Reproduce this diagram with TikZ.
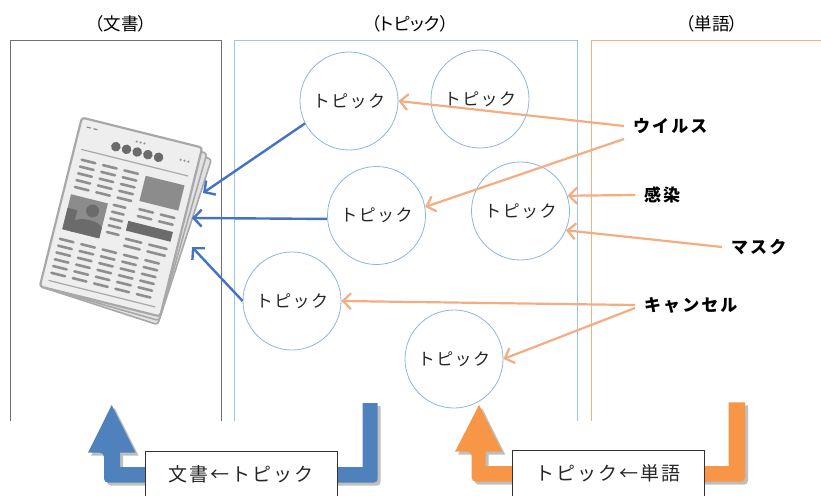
\documentclass[tikz,border=0pt]{standalone}
\usepackage{fontspec}
\usetikzlibrary{arrows.meta}
\newfontfamily\jphead[RawFeature=+palt]{Noto Sans CJK JP}
\newfontfamily\jptopic[LetterSpace=8]{Noto Sans CJK JP}
\newfontfamily\jpword[LetterSpace=12]{Noto Sans CJK JP}
\newfontfamily\jplabel[LetterSpace=10]{Noto Sans CJK JP}

\definecolor{docframe}{HTML}{6F6F6F}
\definecolor{topframe}{HTML}{9DC3E6}
\definecolor{wordframe}{HTML}{F4B183}
\definecolor{circline}{HTML}{8DB4E2}
\definecolor{linkblue}{HTML}{4472C4}
\definecolor{linkorange}{HTML}{F4AC80}
\definecolor{flowblue}{HTML}{4F81BD}
\definecolor{floworange}{HTML}{F79646}
\definecolor{ink}{HTML}{262626}
\definecolor{paper}{HTML}{EEEEEE}
\definecolor{paperback}{HTML}{E2E2E2}
\definecolor{paperedge}{HTML}{A8A8A8}
\definecolor{newsline}{HTML}{8F8F8F}
\definecolor{newsbox}{HTML}{8C8C8C}
\definecolor{newsdark}{HTML}{6B6B6B}

\begin{document}
\begin{tikzpicture}[x=1pt,y=-1pt,
  header/.style={font=\jphead\fontsize{17.5}{17.5}\selectfont, text=black, inner sep=0pt},
  topic/.style={circle, draw=circline, line width=0.8pt, minimum size=98pt, inner sep=0pt,
    font=\jptopic\fontsize{17}{17}\selectfont, text=ink},
  word/.style={anchor=west, font=\jpword\bfseries\fontsize{17}{17}\selectfont, text=black,
    inner xsep=9pt, inner ysep=2pt},
  tolink/.style={draw=linkblue, line width=2.4pt, -{Straight Barb[length=8pt,width=17pt]}},
  wlink/.style={draw=linkorange, line width=2.2pt, -{Straight Barb[length=8pt,width=16pt]}},
  flowlabel/.style={draw=black!80, line width=0.9pt, fill=white, minimum width=192pt,
    minimum height=46pt, inner sep=0pt, font=\jplabel\fontsize{19}{19}\selectfont, text=ink},
  nl/.style={draw=newsline, line width=2.6pt, line cap=round},
]
\useasboundingbox (0,0) rectangle (821,495);

% column frames, open at the bottom
\draw[docframe, line width=0.9pt] (10,421) -- (10,40) -- (221,40) -- (221,421);
\draw[topframe, line width=0.9pt] (234,421) -- (234,40) -- (577,40) -- (577,421);
\draw[wordframe, line width=0.9pt] (591,421) -- (591,40) -- (823,40);

% column headings
\node[header] (hdoc) at (121,24) {（文書）};
\node[header] (htop) at (410,24) {（トピック）};
\node[header] (hword) at (712,24) {（単語）};

% newspaper
\begin{scope}[shift={(121,217)}, rotate=-14]
  \foreach \a in {-4,-2}
    \filldraw[fill=paperback, draw=paperedge, line width=1.6pt, rounded corners=3pt,
      rotate around={\a:(-62,87)}] (-62,-87) rectangle (62,87);
  \filldraw[fill=paper, draw=paperedge, line width=2.2pt, rounded corners=3pt]
    (-62,-87) rectangle (62,87);
  % masthead
  \draw[newsline, line width=1.2pt] (-55,-79) -- (-51,-79) (-48,-79) -- (-44,-79);
  \foreach \x in {-3,1,5} \fill[newsline] (\x,-77) circle (1.2);
  \foreach \x in {44,48,52} \fill[newsline] (\x,-70) circle (1.2);
  \foreach \x in {-22,-11,0,11,22} \fill[newsdark] (\x,-67) circle (4.8);
  \draw[paperedge, line width=1.2pt] (-55,-56) -- (55,-56);
  % upper text block and picture
  \foreach \y in {-46,-39,-32,-25,-18} {
    \draw[nl] (-52,\y) -- (-38,\y);
    \draw[nl] (-30,\y) -- (-16,\y);
    \draw[nl] (-8,\y) -- (6,\y);
  }
  \fill[newsbox] (14,-46) rectangle (54,-20);
  \foreach \y in {-12,-5} {\draw[nl] (16,\y) -- (30,\y); \draw[nl] (38,\y) -- (52,\y);}
  % photo with a figure
  \fill[newsbox] (-54,-10) rectangle (-16,26);
  \fill[newsdark] (-29,1) circle (6.5);
  \fill[newsdark] (-46,26) -- (-46,16) .. controls (-40,9) and (-20,9) .. (-16,15) -- (-16,26) -- cycle;
  \fill[newsdark] (-54,4) rectangle (-44,26);
  \foreach \y in {-10,-3,4,11,18} \draw[nl] (-10,\y) -- (2,\y);
  \fill[newsdark] (8,2) rectangle (54,12);
  \foreach \y in {20,27} {\draw[nl] (10,\y) -- (26,\y); \draw[nl] (34,\y) -- (52,\y);}
  % lower text block
  \foreach \y in {36,43,50,57,64,71}
    \foreach \x in {-54,-32,-10,12,34} \draw[nl] (\x,\y) -- ++(14,0);
  \draw[paperedge, line width=1.2pt] (-55,79) -- (55,79);
\end{scope}

% topics
\node[topic] (t1) at (349,101) {トピック};
\node[topic] (t2) at (480,99) {トピック};
\node[topic] (t3) at (376.5,215.5) {トピック};
\node[topic] (t4) at (520.5,211) {トピック};
\node[topic] (t5) at (292,301) {トピック};
\node[topic] (t6) at (454,359) {トピック};

% words
\node[word] (w1) at (624,126) {ウイルス};
\node[word] (w2) at (635,195) {感染};
\node[word] (w3) at (722,247) {マスク};
\node[word] (w4) at (635,305) {キャンセル};

% word -> topic links
\draw[wlink] (w1.west) -- (t1.east);
\draw[wlink] ([yshift=-13pt]w1.west) -- (t3.10);
\draw[wlink] (w2.west) -- (t4.18);
\draw[wlink] (w3.west) -- (t4.-23);
\draw[wlink] (w4.west) -- (t5.east);
\draw[wlink] ([yshift=-3pt]w4.west) -- (t6.east);

% topic -> document links
\coordinate (np1) at (203,193);
\coordinate (np2) at (192,218);
\coordinate (np3) at (192,247);
\draw[tolink] (t1.207) -- (np1);
\draw[tolink] (t3.184) -- (np2);
\draw[tolink] (t5.west) -- (np3);

% U-turn flow arrows with soft shadow
\foreach \d/\c/\o in {3/black/0.25, 0/flowblue/1} {
  \fill[\c, opacity=\o, shift={(\d,\d)}]
    (362.7,467) -- (362.7,403) -- (377.7,403) [rounded corners=4pt] -- (377.7,482.7)
    -- (104,482.7) -- (104,452.7) [sharp corners] -- (88,452.7) -- (111.7,405)
    -- (135.7,452.7) -- (120,452.7) -- (120,467) -- cycle;
}
\foreach \d/\c/\o in {3/black/0.25, 0/floworange/1} {
  \fill[\c, opacity=\o, shift={(\d,\d)}]
    (728.7,466) -- (728.7,402.3) -- (745,402.3) [rounded corners=4pt] -- (745,481.7)
    -- (471.7,481.7) -- (471.7,451.7) [sharp corners] -- (455,451.7) -- (479,405)
    -- (502.3,451.7) -- (485.7,451.7) -- (485.7,466) -- cycle;
}

% flow labels
\node[flowlabel] (l1) at (241,474) {文書←トピック};
\node[flowlabel] (l2) at (608,473.5) {トピック←単語};
\end{tikzpicture}
\end{document}
